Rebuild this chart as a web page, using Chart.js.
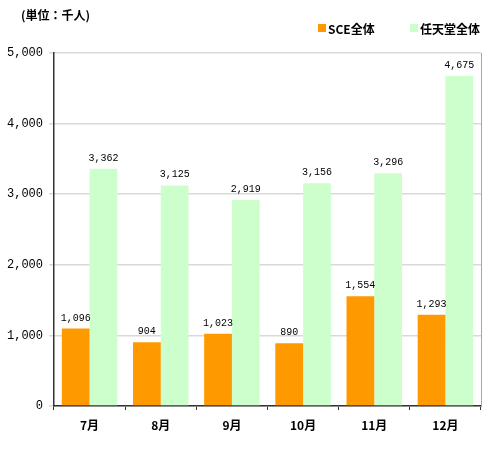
<!DOCTYPE html>
<html>
<head>
<meta charset="utf-8">
<script src="https://cdn.jsdelivr.net/npm/chart.js@4.4.1/dist/chart.umd.min.js"></script>
<style>
  body { margin: 0; background: #fff; }
  #wrap { width: 500px; height: 449px; }
</style>
</head>
<body>
<div id="wrap"><canvas id="myChart" width="500" height="449"></canvas></div>
<script>
const months = ["7月", "8月", "9月", "10月", "11月", "12月"];
const sceValues = [1096, 904, 1023, 890, 1554, 1293];
const nintendoValues = [3362, 3125, 2919, 3156, 3296, 4675];
const seriesNames = ["SCE全体", "任天堂全体"];
const unitLabel = "(単位：千人)";

const numFont = "'Liberation Mono', 'DejaVu Sans Mono', monospace";
const jpFont = "'Noto Sans CJK JP', sans-serif";

function fmt(v) {
  return v.toLocaleString("en-US");
}

const extras = {
  id: "extras",
  afterDatasetsDraw(chart) {
    const ctx = chart.ctx;
    const area = chart.chartArea;
    ctx.save();

    // right border of plot
    ctx.strokeStyle = "#a6a6a6";
    ctx.lineWidth = 1;
    ctx.beginPath();
    ctx.moveTo(area.right + 0.5, area.top);
    ctx.lineTo(area.right + 0.5, area.bottom);
    ctx.stroke();

    // value labels
    ctx.fillStyle = "#000";
    ctx.font = "10px " + numFont;
    ctx.textAlign = "center";
    ctx.textBaseline = "alphabetic";
    chart.data.datasets.forEach((ds, i) => {
      chart.getDatasetMeta(i).data.forEach((bar, j) => {
        ctx.fillText(fmt(ds.data[j]), bar.x, bar.y - 8);
      });
    });

    // unit label
    ctx.font = "bold 12px " + jpFont;
    ctx.textAlign = "left";
    ctx.textBaseline = "middle";
    ctx.fillText(unitLabel, 21, 15);

    // legend
    const legendX = [318, 410];
    chart.data.datasets.forEach((ds, i) => {
      ctx.fillStyle = ds.backgroundColor;
      ctx.fillRect(legendX[i], 24, 8, 8);
      ctx.fillStyle = "#000";
      ctx.font = "bold 12px " + jpFont;
      ctx.fillText(ds.label, legendX[i] + 10, 29);
    });
    ctx.restore();
  }
};

new Chart(document.getElementById("myChart").getContext("2d"), {
  type: "bar",
  data: {
    labels: months,
    datasets: [
      {
        label: seriesNames[0],
        data: sceValues,
        backgroundColor: "#ff9900",
      },
      {
        label: seriesNames[1],
        data: nintendoValues,
        backgroundColor: "#ccffcc",
      },
    ],
  },
  options: {
    responsive: false,
    animation: false,
    layout: {
      padding: { top: 53, right: 19, left: 0, bottom: 0 },
    },
    datasets: {
      bar: {
        categoryPercentage: 0.78,
        barPercentage: 1.0,
      },
    },
    plugins: {
      legend: { display: false },
      tooltip: { enabled: false },
    },
    scales: {
      x: {
        grid: {
          drawOnChartArea: false,
          drawTicks: true,
          tickLength: 4,
          color: "#333",
        },
        border: { color: "#333", width: 1.5 },
        ticks: {
          color: "#000",
          font: { family: jpFont, size: 12, weight: "bold" },
          padding: 8,
        },
        afterFit(scale) {
          scale.height = 43;
        },
      },
      y: {
        min: 0,
        max: 5000,
        grid: {
          color: "#d9d9d9",
          lineWidth: 1.5,
          tickLength: 5,
        },
        border: { color: "#333", width: 1.5 },
        ticks: {
          stepSize: 1000,
          color: "#000",
          font: { family: numFont, size: 12 },
          padding: 6,
          callback: (v) => fmt(v),
        },
        afterFit(scale) {
          scale.width = 54;
        },
      },
    },
  },
  plugins: [extras],
});
</script>
</body>
</html>
